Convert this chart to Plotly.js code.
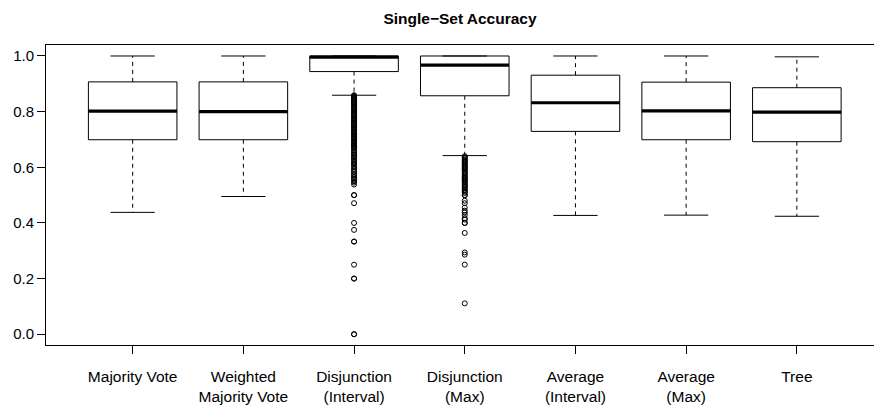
<!DOCTYPE html>
<html>
<head>
<meta charset="utf-8">
<script src="https://cdn.plot.ly/plotly-3.0.1.min.js"></script>
<style>html,body{margin:0;padding:0;background:#fff;}#chart{width:874px;height:406px;}</style>
</head>
<body>
<div id="chart"></div>
<script>
// ---- data ----
const categories = ["Majority Vote", "Weighted<br>Majority Vote", "Disjunction<br>(Interval)", "Disjunction<br>(Max)", "Average<br>(Interval)", "Average<br>(Max)", "Tree"];
const upperWhisker = [1.000, 1.000, 1.000, 1.000, 1.000, 1.000, 0.997];
const q3 = [0.907, 0.907, 1.000, 1.000, 0.931, 0.906, 0.886];
const medians = [0.802, 0.800, 0.996, 0.967, 0.832, 0.803, 0.798];
const q1 = [0.699, 0.699, 0.944, 0.857, 0.729, 0.699, 0.692];
const lowerWhisker = [0.438, 0.495, 0.859, 0.642, 0.427, 0.428, 0.424];

const outliersDisjInterval = [
  0.859, 0.857, 0.853, 0.850, 0.846, 0.843, 0.840, 0.836, 0.833, 0.830, 0.826, 0.822,
  0.818, 0.815, 0.812, 0.808, 0.804, 0.800, 0.796, 0.793, 0.789, 0.786, 0.783, 0.778,
  0.775, 0.771, 0.767, 0.763, 0.760, 0.756, 0.752, 0.750, 0.745, 0.741, 0.738, 0.733,
  0.730, 0.727, 0.722, 0.719, 0.714, 0.711, 0.708, 0.704, 0.700, 0.696, 0.692, 0.688,
  0.684, 0.680, 0.677, 0.674, 0.670, 0.667,
  0.660, 0.655, 0.650, 0.645, 0.640, 0.636, 0.630, 0.625, 0.619, 0.615, 0.611, 0.606,
  0.600, 0.594, 0.588, 0.583, 0.576, 0.571, 0.565, 0.560, 0.556, 0.550, 0.545, 0.538,
  0.500, 0.500, 0.471, 0.400, 0.375, 0.333, 0.333, 0.250, 0.200, 0.200, 0.000, 0.000
];
const outliersDisjMax = [
  0.640, 0.636, 0.632, 0.628, 0.625, 0.621, 0.618, 0.614, 0.610, 0.606, 0.602, 0.600,
  0.596, 0.592, 0.588, 0.583, 0.580, 0.576, 0.571, 0.567, 0.563, 0.560, 0.556, 0.552,
  0.548, 0.545, 0.540, 0.536, 0.533, 0.529, 0.525, 0.520, 0.517, 0.512, 0.508,
  0.500, 0.500, 0.480, 0.471, 0.455, 0.444, 0.438, 0.429, 0.417, 0.412, 0.400, 0.400,
  0.364, 0.294, 0.286, 0.250, 0.111
];
const yTickVals = [0, 0.2, 0.4, 0.6, 0.8, 1.0];

// ---- build ----
const pos = categories.map((c, i) => i + 1);
const BOXW = 0.8, CAPW = 0.4;
const FONT = "Liberation Sans, Arial, Helvetica, sans-serif";

const wx = [], wy = [];
const cx = [], cy = [];
const mx = [], my = [];
pos.forEach((p, i) => {
  wx.push(p, p, null, p, p, null);
  wy.push(q3[i], upperWhisker[i], null, q1[i], lowerWhisker[i], null);
  cx.push(p - CAPW / 2, p + CAPW / 2, null, p - CAPW / 2, p + CAPW / 2, null);
  cy.push(upperWhisker[i], upperWhisker[i], null, lowerWhisker[i], lowerWhisker[i], null);
  mx.push(p - BOXW / 2, p + BOXW / 2, null);
  my.push(medians[i], medians[i], null);
});

const ox = [], oy = [];
outliersDisjInterval.forEach(v => { ox.push(pos[2]); oy.push(v); });
outliersDisjMax.forEach(v => { ox.push(pos[3]); oy.push(v); });

const traces = [
  { type: "scatter", mode: "lines", x: wx, y: wy, hoverinfo: "skip",
    line: { color: "#000", width: 1, dash: "4px,4px" } },
  { type: "scatter", mode: "lines", x: cx, y: cy, hoverinfo: "skip",
    line: { color: "#000", width: 1 } },
  { type: "box", x: pos, q1: q1, median: medians, q3: q3,
    lowerfence: q1, upperfence: q3, width: BOXW, whiskerwidth: 0,
    boxpoints: false, fillcolor: "#fff", line: { color: "#000", width: 1 } },
  { type: "scatter", mode: "lines", x: mx, y: my, hoverinfo: "skip",
    line: { color: "#000", width: 3.2 } },
  { type: "scatter", mode: "markers", x: ox, y: oy,
    marker: { symbol: "circle-open", size: 5, color: "#000", line: { width: 1, color: "#000" } } }
];

const layout = {
  width: 874, height: 406,
  margin: { l: 46, r: 0, t: 45, b: 61 },
  paper_bgcolor: "#fff", plot_bgcolor: "#fff",
  showlegend: false,
  font: { family: FONT, size: 15, color: "#000" },
  title: { text: "<b>Single−Set Accuracy</b>", x: 0.5, xref: "paper", y: 0.955, yref: "container", yanchor: "middle",
    font: { family: FONT, size: 15.5, color: "#000" } },
  xaxis: {
    range: [0.217, 7.697], tickvals: pos, ticktext: categories,
    showgrid: false, zeroline: false, showline: true, mirror: true,
    linecolor: "#000", linewidth: 1, ticks: "outside", ticklen: 8, tickcolor: "#000",
    ticklabelstandoff: 9,
    tickfont: { family: FONT, size: 15.5, color: "#000" }
  },
  yaxis: {
    range: [-0.0387, 1.0395], tickvals: yTickVals, tickformat: ".1f",
    showgrid: false, zeroline: false, showline: true,
    linecolor: "#000", linewidth: 1, ticks: "outside", ticklen: 8, tickcolor: "#000",
    tickfont: { family: FONT, size: 15, color: "#000" }
  }
};

Plotly.newPlot("chart", traces, layout, { staticPlot: true, displayModeBar: false });
</script>
</body>
</html>
